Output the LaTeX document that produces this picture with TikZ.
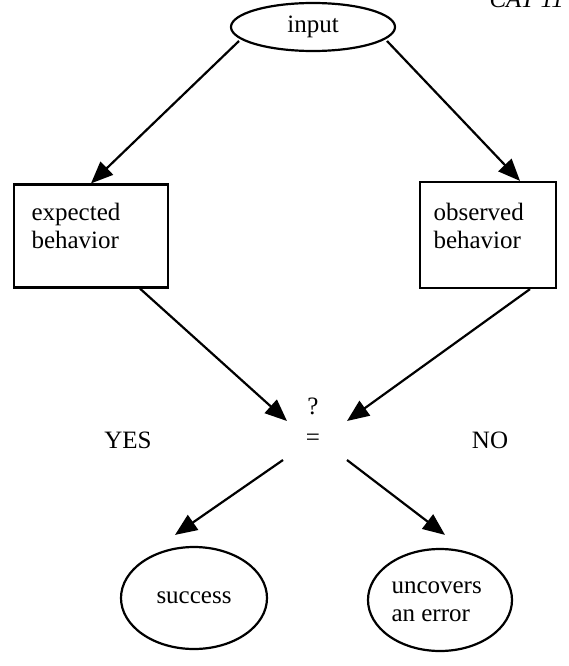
\documentclass[tikz,border=0pt]{standalone}
\usepackage{fontspec}
\setmainfont{Liberation Serif}
\usetikzlibrary{shapes.geometric,arrows.meta,calc}
\begin{document}
\begin{tikzpicture}[x=1pt,y=-1pt,
  every node/.style={font=\fontsize{25}{28}\selectfont},
  conn/.style={line width=2.2pt,-{Triangle[length=22pt,width=18pt]}},
  oval/.style={draw,line width=2.2pt,ellipse,inner sep=0pt},
  boxnode/.style={draw,line width=2.2pt,rectangle,inner sep=0pt}]
\clip (0,0) rectangle (569,666);
\fill[white] (0,0) rectangle (569,666);
\node[anchor=base west,font=\itshape\fontsize{25}{28}\selectfont] (hdr) at (486,8) {CAT 11};
\node[oval,minimum width=164pt,minimum height=48pt] (in) at (313,27) {input};
\node[boxnode,minimum width=154pt,minimum height=103pt] (exp) at (91,236) {};
\node[align=left,anchor=west] (expt) at (28,226) {expected\\behavior};
\node[boxnode,minimum width=136pt,minimum height=106pt] (obs) at (488,235) {};
\node[align=left,anchor=west] (obst) at (430,226) {observed\\behavior};
\node[inner sep=0pt] (q) at (313,406) {?};
\node[inner sep=0pt] (eq) at (313,440) {=};
\node (yes) at (128,440) {YES};
\node (no) at (490,440) {NO};
\node[oval,minimum width=146pt,minimum height=102pt] (succ) at (194,598) {success};
\node[oval,minimum width=144pt,minimum height=102pt] (unc) at (440,600) {};
\node[align=left,anchor=west] (unct) at (388,602) {uncovers\\an error};
\coordinate (tipL) at (287,421);
\coordinate (tipR) at (347,421);
\coordinate (fromL) at (283,460);
\coordinate (fromR) at (347,460);
\draw[conn] ($(in.center)+(-74,14)$) -- (exp.north);
\draw[conn] ($(in.center)+(74,14)$) -- ($(obs.north)+(32,0)$);
\draw[conn] ($(exp.south)+(49,0)$) -- (tipL);
\draw[conn] ($(obs.south)+(42,0)$) -- (tipR);
\draw[conn] (fromL) -- ($(succ.north)+(-19,-11)$);
\draw[conn] (fromR) -- ($(unc.north)+(5,-13)$);
\end{tikzpicture}
\end{document}
